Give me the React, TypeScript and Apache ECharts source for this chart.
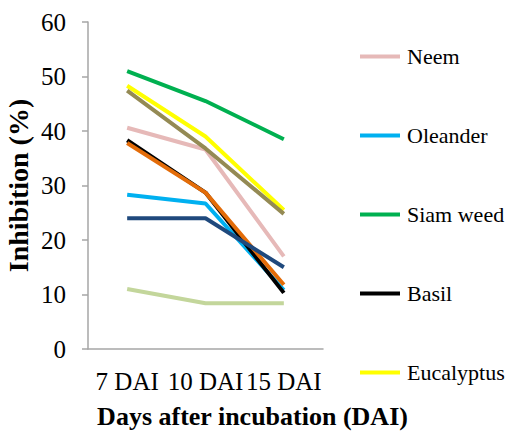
import React, { useEffect, useRef } from "react";
import * as echarts from "echarts";

const categories = ["7 DAI", "10 DAI", "15 DAI"];
const yTicks = [0, 10, 20, 30, 40, 50, 60];

const neem = [40.6, 36.6, 17.0];
const oleander = [28.3, 26.7, 10.8];
const siamWeed = [51.0, 45.5, 38.5];
const basil = [38.3, 28.7, 10.3];
const eucalyptus = [48.3, 39.0, 25.5];
const extract6 = [47.4, 36.8, 24.8];
const extract7 = [37.8, 28.7, 11.8];
const extract8 = [24.0, 24.0, 15.0];
const extract9 = [11.0, 8.4, 8.4];

const seriesDefs = [
  { name: "Neem", data: neem, color: "#E6B9B8" },
  { name: "Oleander", data: oleander, color: "#00B0F0" },
  { name: "Siam weed", data: siamWeed, color: "#00B050" },
  { name: "Basil", data: basil, color: "#000000" },
  { name: "Eucalyptus", data: eucalyptus, color: "#FFFF00" },
  { name: "Extract 6", data: extract6, color: "#948A54" },
  { name: "Extract 7", data: extract7, color: "#E36C09" },
  { name: "Extract 8", data: extract8, color: "#1F497D" },
  { name: "Extract 9", data: extract9, color: "#C3D69B" },
];
const legendNames = ["Neem", "Oleander", "Siam weed", "Basil", "Eucalyptus"];

const FONT = "Liberation Serif";

export default function App() {
  const ref = useRef<HTMLDivElement>(null);
  useEffect(() => {
    if (!ref.current) return;
    const chart = echarts.init(ref.current, undefined, { renderer: "svg" });
    chart.setOption({
      animation: false,
      backgroundColor: "#ffffff",
      textStyle: { fontFamily: FONT },
      grid: { left: 88, top: 22, right: 195, bottom: 91, containLabel: false },
      legend: {
        data: legendNames,
        orient: "vertical",
        left: 355,
        top: 39,
        itemWidth: 40,
        itemHeight: 4,
        itemGap: 54,
        icon: "rect",
        textStyle: {
          fontFamily: FONT,
          fontSize: 22,
          color: "#000",
          lineHeight: 25,
          padding: [0, 0, 0, 2],
        },
      },
      xAxis: {
        type: "category",
        data: categories,
        boundaryGap: true,
        axisLine: { show: true, lineStyle: { color: "#A6A6A6", width: 1.5 } },
        axisTick: { show: false },
        axisLabel: {
          fontFamily: FONT,
          fontSize: 25,
          color: "#000",
          margin: 20,
          interval: 0,
          hideOverlap: false,
        },
        name: "Days after incubation (DAI)",
        nameLocation: "middle",
        nameGap: 54,
        nameTextStyle: {
          fontFamily: FONT,
          fontSize: 26,
          fontWeight: "bold",
          color: "#000",
          padding: [0, 0, 0, 94],
        },
      },
      yAxis: {
        type: "value",
        min: 0,
        max: 60,
        interval: 10,
        splitLine: { show: false },
        axisLine: { show: true, lineStyle: { color: "#A6A6A6", width: 1.5 } },
        axisTick: { show: true, inside: false, length: 6, lineStyle: { color: "#A6A6A6", width: 1.5 } },
        axisLabel: {
          fontFamily: FONT,
          fontSize: 25,
          color: "#000",
          margin: 22,
          formatter: (v: number) => (yTicks.includes(v) ? String(v) : ""),
        },
        name: "Inhibition (%)",
        nameLocation: "middle",
        nameRotate: 90,
        nameGap: 56,
        nameTextStyle: { fontFamily: FONT, fontSize: 28, fontWeight: "bold", color: "#000" },
      },
      series: seriesDefs.map((s) => ({
        name: s.name,
        type: "line",
        data: s.data,
        symbol: "none",
        showSymbol: false,
        color: s.color,
        lineStyle: { color: s.color, width: 4 },
        itemStyle: { color: s.color },
      })),
    });
    return () => chart.dispose();
  }, []);
  return <div ref={ref} style={{ width: 518, height: 440, margin: -8 }} />;
}
